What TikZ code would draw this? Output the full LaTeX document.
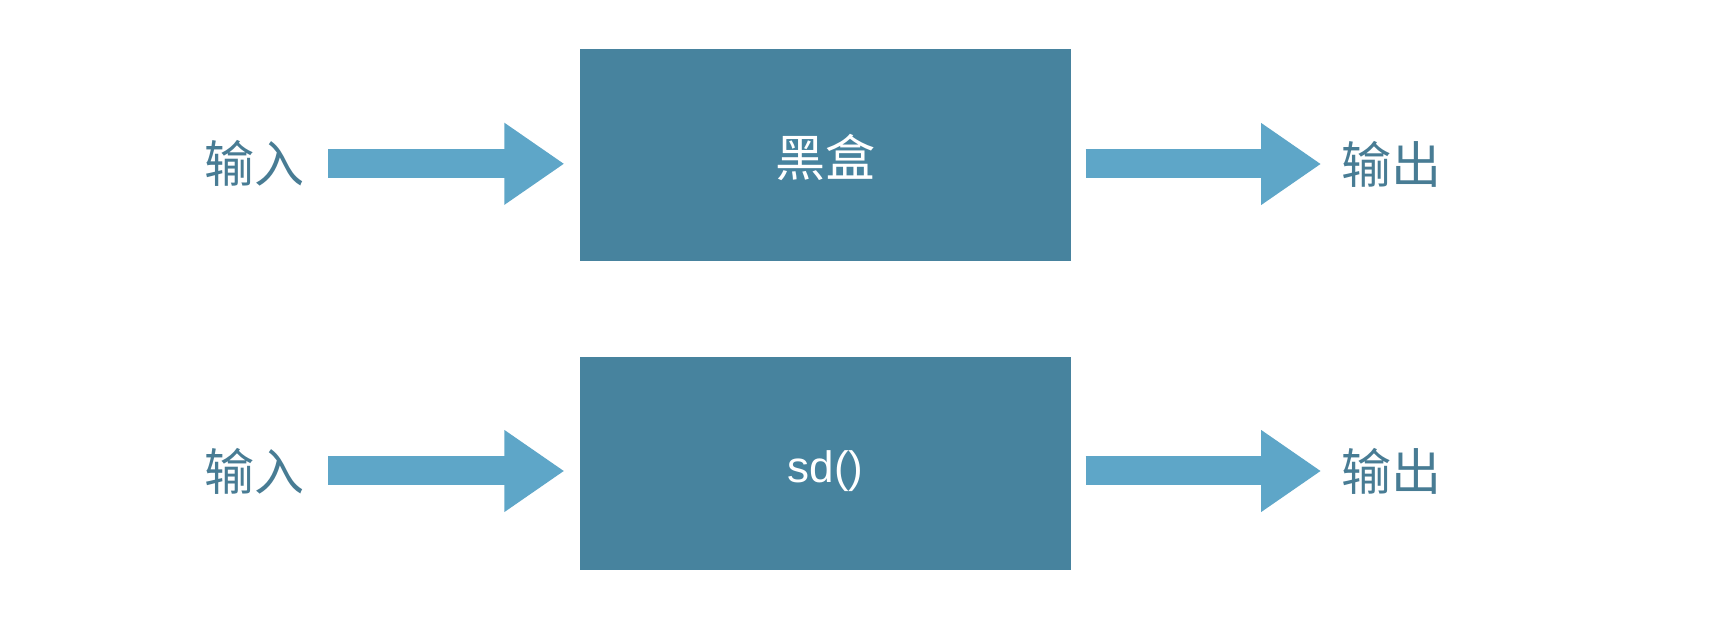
\documentclass[tikz,border=0pt]{standalone}
\usepackage{fontspec}
\setmainfont{Liberation Sans}
\newfontfamily\cjk{Noto Sans CJK SC}
\usetikzlibrary{arrows.meta}
\definecolor{boxblue}{RGB}{71,131,158}
\definecolor{arrowblue}{RGB}{94,166,200}
\definecolor{labelblue}{RGB}{72,124,148}

\begin{document}
\begin{tikzpicture}[x=1pt,y=1pt,
	blackbox/.style={fill=boxblue, minimum width=245.75pt, minimum height=106.35pt, inner sep=0pt, text=white, font=\fontsize{25}{25}\selectfont},
	io/.style={text=labelblue, inner sep=0pt, font=\cjk\fontsize{25}{25}\selectfont},
	fat/.style={arrowblue, line width=14.5pt, -{Triangle[length=30pt,width=38.9pt]}}]
	\useasboundingbox (0,0) rectangle (864,-312);

	% first row
	\node[blackbox] (box1) at (412.75,-77.45) {\raisebox{-11pt}[0pt][0pt]{\cjk 黑盒}};
	\node[io] (in1) at (127,-81.9) {输入};
	\node[io] (out1) at (695.75,-82) {输出};
	\draw[fat] ([xshift=12pt]in1.east) -- ([xshift=-7.5pt]box1.west |- in1.east);
	\draw[fat] ([xshift=7pt]box1.east |- out1.west) -- ([xshift=-10pt]out1.west);

	% second row
	\node[blackbox] (box2) at (412.75,-231.75) {\raisebox{-9.45pt}[0pt][0pt]{\fontsize{22}{22}\selectfont sd()}};
	\node[io] (in2) at (127,-235.5) {输入};
	\node[io] (out2) at (695.75,-235.5) {输出};
	\draw[fat] ([xshift=12pt]in2.east) -- ([xshift=-7.5pt]box2.west |- in2.east);
	\draw[fat] ([xshift=7pt]box2.east |- out2.west) -- ([xshift=-10pt]out2.west);
\end{tikzpicture}
\end{document}
